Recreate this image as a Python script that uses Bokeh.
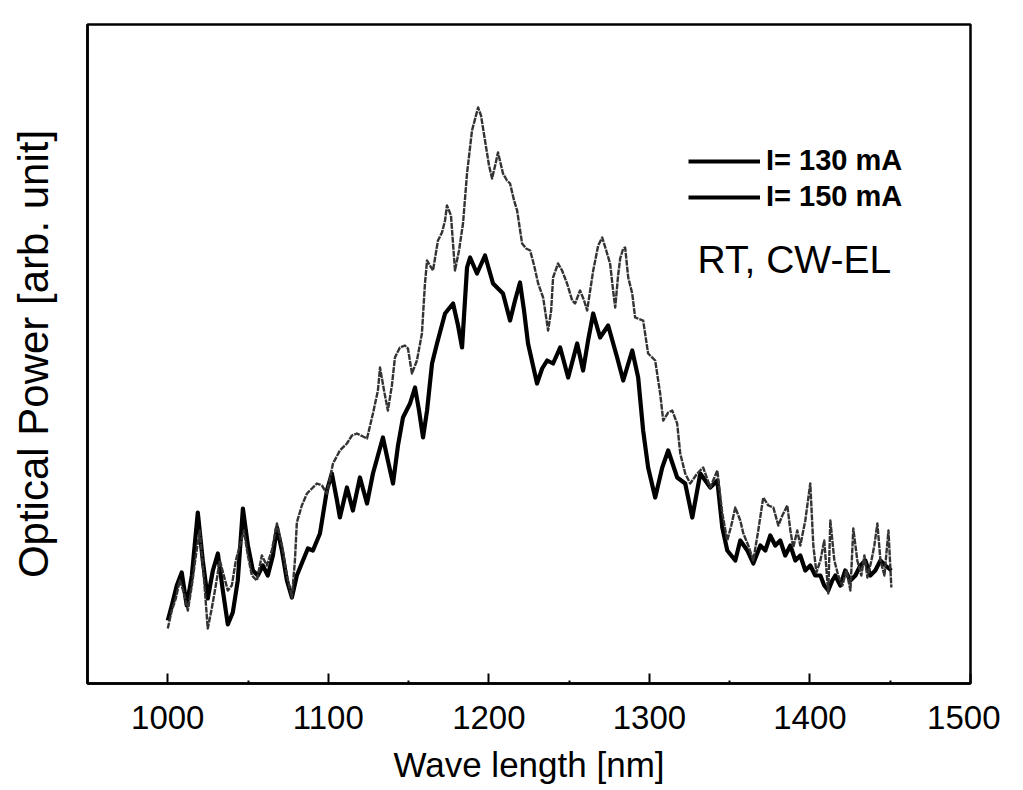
from bokeh.plotting import figure
from bokeh.models import Range1d, FixedTicker, Legend, LegendItem, Label
from bokeh.embed import file_html
from bokeh.resources import INLINE

# ---- data ----
wl_130 = [1000.0, 1002.5, 1005.6, 1008.7, 1011.8, 1015.0, 1018.7, 1021.8, 1024.9, 1028.1,
          1031.2, 1034.3, 1037.4, 1040.5, 1043.6, 1046.8, 1049.9, 1053.0, 1056.1, 1059.2,
          1062.3, 1065.5, 1068.0, 1071.1, 1074.2, 1077.3, 1080.4, 1084.2, 1087.3, 1090.4,
          1094.8, 1099.1, 1102.2, 1105.4, 1107.2, 1111.6, 1115.3, 1119.7, 1124.1, 1127.8,
          1134.0, 1137.1, 1140.3, 1143.4, 1146.5, 1150.9, 1154.0, 1156.5, 1159.0, 1161.5,
          1164.6, 1167.7, 1172.7, 1177.7, 1180.8, 1183.3, 1186.4, 1188.3, 1192.6, 1197.6,
          1202.6, 1208.8, 1213.2, 1216.3, 1219.4, 1221.9, 1224.4, 1230.0, 1233.2, 1236.3,
          1240.0, 1244.4, 1249.4, 1255.0, 1258.7, 1261.8, 1265.0, 1269.3, 1274.3, 1279.9,
          1283.7, 1289.3, 1293.0, 1296.1, 1299.2, 1303.6, 1308.0, 1311.7, 1317.3, 1322.3,
          1326.7, 1331.7, 1334.8, 1337.9, 1342.3, 1345.4, 1348.5, 1353.5, 1356.6, 1361.0,
          1364.7, 1369.1, 1372.2, 1375.3, 1378.4, 1381.5, 1384.6, 1387.8, 1390.9, 1394.0,
          1397.1, 1400.2, 1403.3, 1406.5, 1408.9, 1411.4, 1413.9, 1415.8, 1418.9, 1422.0,
          1425.2, 1428.3, 1431.4, 1434.5, 1437.6, 1440.7, 1443.9, 1447.0, 1450.7]
pw_130 = [63, 78, 98, 111, 78, 108, 171, 123, 85, 113,
          130, 93, 59, 71, 103, 175, 138, 113, 108, 118,
          108, 128, 156, 133, 103, 86, 108, 123, 135, 133,
          150, 193, 210, 183, 166, 196, 173, 206, 180, 210,
          246, 223, 200, 238, 266, 280, 296, 273, 246, 273,
          320, 340, 370, 380, 358, 336, 416, 426, 410, 428,
          400, 390, 363, 383, 401, 373, 340, 300, 315, 323,
          320, 336, 306, 340, 313, 343, 370, 346, 358, 326,
          303, 333, 306, 253, 216, 186, 216, 233, 206, 200,
          166, 210, 203, 196, 203, 156, 133, 123, 143, 133,
          120, 138, 133, 148, 138, 143, 128, 138, 123, 128,
          113, 118, 108, 108, 98, 93, 103, 108, 98, 113,
          103, 108, 118, 123, 108, 113, 123, 118, 113]

wl_150 = [1000.0, 1002.5, 1005.0, 1007.5, 1010.0, 1012.5, 1015.0, 1017.5, 1019.9, 1022.4,
          1024.9, 1027.4, 1029.9, 1032.4, 1034.9, 1037.4, 1039.9, 1042.4, 1044.9, 1047.4,
          1049.9, 1052.4, 1055.5, 1058.6, 1061.7, 1064.8, 1068.0, 1071.1, 1074.2, 1077.3,
          1079.2, 1080.4, 1083.5, 1086.7, 1089.8, 1092.9, 1096.0, 1099.1, 1102.9, 1107.2,
          1111.6, 1114.7, 1117.8, 1121.6, 1124.1, 1127.8, 1130.9, 1132.2, 1134.7, 1137.1,
          1139.6, 1141.5, 1144.6, 1147.7, 1149.6, 1152.1, 1155.2, 1158.3, 1160.2, 1161.5,
          1163.3, 1165.2, 1168.3, 1170.8, 1172.7, 1173.9, 1176.4, 1178.9, 1181.4, 1183.9,
          1186.4, 1189.5, 1193.3, 1195.1, 1197.6, 1200.1, 1202.0, 1203.9, 1205.7, 1208.8,
          1211.3, 1213.2, 1215.7, 1217.6, 1220.7, 1223.2, 1225.7, 1228.2, 1230.7, 1233.8,
          1236.9, 1238.8, 1240.0, 1243.1, 1245.6, 1248.7, 1251.9, 1253.7, 1256.8, 1259.3,
          1261.2, 1263.1, 1265.0, 1268.1, 1270.6, 1273.1, 1275.5, 1277.4, 1278.7, 1280.5,
          1281.8, 1283.7, 1284.9, 1286.8, 1289.3, 1291.1, 1296.1, 1299.2, 1303.6, 1306.7,
          1308.6, 1311.7, 1314.2, 1317.3, 1319.2, 1322.3, 1325.4, 1329.8, 1333.5, 1337.9,
          1342.3, 1345.4, 1348.5, 1351.0, 1353.5, 1356.6, 1358.5, 1361.6, 1364.7, 1367.8,
          1370.9, 1374.1, 1377.2, 1380.3, 1382.8, 1385.9, 1387.8, 1389.6, 1392.1, 1394.0,
          1397.1, 1400.2, 1402.1, 1404.0, 1406.5, 1408.9, 1411.4, 1412.7, 1415.2, 1417.6,
          1420.2, 1422.7, 1425.2, 1427.0, 1429.5, 1432.0, 1433.9, 1435.8, 1438.3, 1440.1,
          1442.0, 1443.9, 1446.4, 1448.9, 1450.7]
pw_150 = [55, 73, 85, 103, 91, 73, 98, 128, 153, 108,
          55, 75, 98, 123, 108, 93, 98, 123, 138, 153,
          128, 108, 103, 128, 118, 133, 160, 138, 108, 86,
          123, 161, 178, 190, 195, 200, 198, 190, 220, 233,
          240, 248, 250, 247, 245, 270, 293, 316, 293, 273,
          298, 326, 336, 338, 335, 310, 323, 350, 400, 423,
          418, 413, 443, 451, 463, 478, 468, 413, 433, 460,
          510, 553, 576, 568, 543, 518, 505, 518, 531, 510,
          503, 500, 483, 473, 440, 435, 433, 418, 400, 386,
          353, 373, 406, 420, 413, 400, 383, 380, 393, 383,
          373, 393, 413, 438, 446, 433, 420, 393, 376, 408,
          425, 435, 436, 406, 390, 366, 363, 330, 323, 290,
          263, 271, 273, 260, 230, 210, 200, 210, 216, 196,
          213, 170, 143, 158, 176, 163, 150, 138, 123, 153,
          186, 178, 176, 158, 168, 178, 153, 136, 153, 138,
          163, 200, 138, 111, 123, 143, 90, 163, 123, 108,
          98, 113, 93, 155, 123, 108, 128, 106, 123, 138,
          160, 123, 108, 153, 96]

x_ticks = [1000, 1100, 1200, 1300, 1400, 1500]
x_minor = [950, 1050, 1150, 1250, 1350, 1450]
labels = ["I= 130 mA", "I= 150 mA"]

FONT = "Liberation Sans"

p = figure(frame_width=883, frame_height=659,
           x_range=Range1d(950, 1500), y_range=Range1d(0, 659),
           output_backend="svg", toolbar_location=None,
           min_border_left=87, min_border_top=24, min_border_right=30, min_border_bottom=90,
           background_fill_color="white", border_fill_color="white")

p.xgrid.visible = False
p.ygrid.visible = False
p.outline_line_color = "black"
p.outline_line_width = 2.5

r1 = p.line(wl_130, pw_130, line_color="black", line_width=4.2, line_join="round")
r2 = p.line(wl_150, pw_150, line_color="#333333", line_width=2.4, line_join="round",
            line_dash="6 1")

xa = p.xaxis[0]
xa.ticker = FixedTicker(ticks=x_ticks, minor_ticks=x_minor)
xa.axis_line_width = 2.5
xa.major_tick_in = 10
xa.major_tick_out = 0
xa.major_tick_line_width = 2
xa.minor_tick_in = 3
xa.minor_tick_out = 0
xa.minor_tick_line_width = 2
xa.major_label_text_font = FONT
xa.major_label_text_font_size = "33px"
xa.major_label_text_color = "black"
xa.major_label_standoff = 22
xa.axis_label = "Wave length [nm]"
xa.axis_label_text_font = FONT
xa.axis_label_text_font_size = "35px"
xa.axis_label_text_font_style = "normal"
xa.axis_label_text_color = "black"
xa.axis_label_standoff = 13

ya = p.yaxis[0]
ya.ticker = FixedTicker(ticks=[])
ya.axis_line_width = 2.5
ya.major_tick_line_color = None
ya.minor_tick_line_color = None
ya.axis_label = "Optical Power [arb. unit]"
ya.axis_label_text_font = FONT
ya.axis_label_text_font_size = "42px"
ya.axis_label_text_font_style = "normal"
ya.axis_label_text_color = "black"
ya.axis_label_standoff = 31

legend = Legend(items=[LegendItem(label=labels[0], renderers=[r1]),
                       LegendItem(label=labels[1], renderers=[r1])],
                location=(601, 470), orientation="vertical",
                border_line_color=None, background_fill_alpha=0,
                padding=0, margin=0, spacing=3,
                glyph_width=72, glyph_height=30, label_standoff=6,
                label_text_font=FONT, label_text_font_size="29px",
                label_text_color="black", label_text_font_style="bold")
p.add_layout(legend, "center")

p.add_layout(Label(x=1330, y=424, text="RT, CW-EL", text_font=FONT,
                   text_font_size="39px", text_color="black",
                   text_baseline="alphabetic"))

open("out.html", "w").write(file_html(p, INLINE))
